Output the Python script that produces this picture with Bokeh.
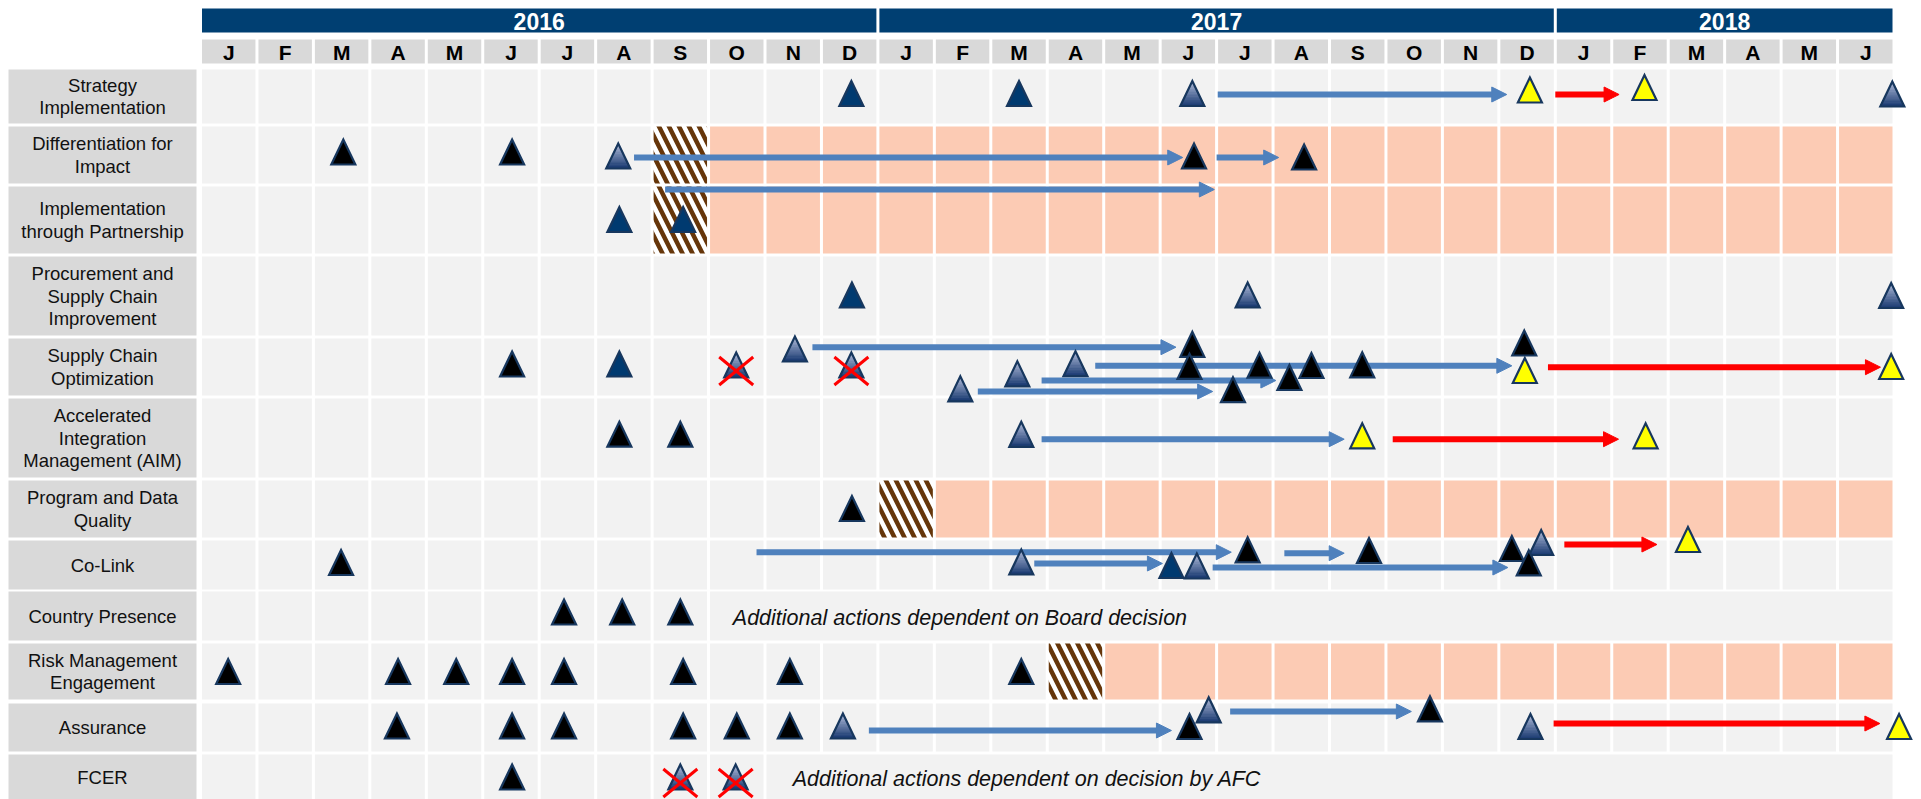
from bokeh.plotting import figure
from bokeh.models import Range1d, ColumnDataSource
from bokeh.embed import file_html
from bokeh.resources import INLINE
from bokeh.core.properties import value

# ---------------- data ----------------
YEARS = ["2016", "2017", "2018"]
YEAR_FIRST_MONTH = [0, 12, 24]
YEAR_END_MONTH = [12, 24, 30]
MONTHS = ["J", "F", "M", "A", "M", "J", "J", "A", "S", "O", "N", "D"] * 2 + ["J", "F", "M", "A", "M", "J"]

ROWS = [
    "Strategy\nImplementation",
    "Differentiation for\nImpact",
    "Implementation\nthrough Partnership",
    "Procurement and\nSupply Chain\nImprovement",
    "Supply Chain\nOptimization",
    "Accelerated\nIntegration\nManagement (AIM)",
    "Program and Data\nQuality",
    "Co-Link",
    "Country Presence",
    "Risk Management\nEngagement",
    "Assurance",
    "FCER",
]

# transition month (hatched), shaded through the end afterwards
HATCH_ROW = [1, 2, 6, 9]
HATCH_MONTH = [8, 8, 12, 15]

# rows whose cells merge into one from a month on
MERGE_ROW = [8, 11]
MERGE_MONTH = [9, 10]

NOTE_ROW = [8, 11]
NOTE_MONTH = [9.43, 10.49]
NOTE_TEXT = ["Additional actions dependent on Board decision",
             "Additional actions dependent on decision by AFC"]

# milestones: row, month position, kind
MS_ROW = [0, 0, 0, 0, 0, 0,
          1, 1, 1, 1, 1,
          2, 2,
          3, 3, 3,
          4, 4, 4, 4, 4, 4, 4, 4, 4, 4, 4, 4, 4, 4, 4, 4, 4, 4,
          5, 5, 5, 5, 5,
          6,
          7, 7, 7, 7, 7, 7, 7, 7, 7, 7,
          8, 8, 8,
          9, 9, 9, 9, 9, 9, 9, 9,
          10, 10, 10, 10, 10, 10, 10, 10, 10, 10, 10, 10,
          11, 11, 11]
MS_MONTH = [11.53, 14.5, 17.57, 23.55, 25.58, 29.97,
            2.53, 5.52, 7.4, 17.6, 19.55,
            7.42, 8.55,
            11.54, 18.55, 29.95,
            5.52, 7.42, 9.49, 10.53, 11.53, 13.46, 14.47, 15.5, 17.57, 17.52, 18.29, 18.76, 19.29, 19.68, 20.58, 23.45, 23.46, 29.95,
            7.42, 8.5, 14.54, 20.58, 25.6,
            11.54,
            2.49, 14.54, 17.2, 17.65, 18.55, 20.7, 23.23, 23.75, 23.53, 26.35,
            6.44, 7.47, 8.5,
            0.49, 3.5, 4.53, 5.52, 6.44, 8.55, 10.44, 14.54,
            3.48, 5.52, 6.44, 8.55, 9.5, 10.44, 11.38, 17.52, 17.86, 21.78, 23.56, 30.09,
            5.52, 8.5, 9.48]
MS_KIND = ["key", "key", "planned", "revised", "revised", "planned",
           "done", "done", "planned", "done", "done",
           "key", "key",
           "key", "planned", "planned",
           "done", "key", "cancelled", "planned", "cancelled", "planned", "planned", "planned", "done", "done", "done", "done", "done", "done", "done", "done", "revised", "revised",
           "done", "done", "planned", "revised", "revised",
           "done",
           "done", "planned", "key", "planned", "done", "done", "done", "planned", "done", "revised",
           "done", "done", "done",
           "done", "done", "done", "done", "done", "done", "done", "done",
           "done", "done", "done", "done", "done", "done", "planned", "done", "planned", "done", "planned", "revised",
           "done", "cancelled", "cancelled"]

# shifts: row, from month, to month, kind
AR_ROW = [0, 0, 1, 1, 2, 4, 4, 4, 4, 4, 5, 5, 7, 7, 7, 7, 7, 10, 10, 10]
AR_FROM = [18.02, 24.0, 7.68, 18.0, 8.23, 10.84, 13.77, 14.9, 15.85, 23.87, 14.9, 21.12,
           9.85, 19.2, 24.16, 14.77, 17.93, 11.84, 18.24, 23.97]
AR_TO = [23.14, 25.13, 17.4, 19.1, 17.96, 17.28, 17.93, 19.05, 23.23, 29.76, 20.26, 25.12,
         18.26, 20.26, 25.8, 17.04, 23.16, 17.2, 21.45, 29.75]
AR_KIND = ["shift", "delay", "shift", "shift", "shift", "shift", "shift", "shift", "shift", "delay",
           "shift", "delay", "shift", "shift", "delay", "shift", "shift", "shift", "shift", "delay"]

# ---------------- layout (pixels) ----------------
PAGE = 0
FIG_W, FIG_H = 1915, 799
X0, MW = 200.0, 56.45
ROW_TOP = [69, 126, 186, 256, 338, 398, 480, 540, 591, 643, 703, 754]
ROW_BOT = [123, 183, 253, 335, 395, 477, 537, 589, 640, 699, 751, 800]
MS_DY = [-3, -3, -3, -6.5, -9, -2.5,
         -3, -3, 1, 1, 2,
         -0.5, -0.5,
         -1, -1, -0.5,
         -3, -3, -2, -18, -2, 21.8, 6.8, -3.3, -22.7, -0.7, 22.7, -1.8, 10.5, -1.5, -2.2, -24, 3.5, -0.5,
         -3.8, -3.8, -3.7, -2.2, -2.2,
         -0.5,
         -2.5, -3, 0.5, 1, -15.2, -14.5, -16.5, -22.5, -2.2, -25.5,
         -4, -4, -4,
         0, 0, 0, 0, 0, 0, 0, 0,
         -1.5, -1.5, -1.5, -1.5, -1.5, -1.5, -1.5, -1, -17.6, -18.6, -1, -1,
         -0.5, -0.5, -0.5]
AR_DY = [-2, -2, 2.5, 2.5, -30.5, -19.8, 24.5, 13.5, -1.2, 0.2, 1.2, 1.2,
         -12.8, -11.8, -20.5, -1.5, 2.5, 3, -16, -4]

# ---------------- styles ----------------
BAR = "#003F72"
CELL = "#F2F2F2"
LABEL_BG = "#D9D9D9"
PEACH = "#FCCBB4"
HATCH_C = "#66360A"
ARROW_C = {"shift": "#4F81BD", "delay": "#FF0000"}
OUTLINE = "#17375E"
FILL = {"key": "#003A70", "done": "#000000", "revised": "#FFFF00"}
GRAD_TOP = (184, 194, 222)
GRAD_BOT = (24, 56, 112)
FONT = value("Liberation Sans")


def mx(px):
    return (px - X0) / MW


G = 1.5 / MW
p = figure(width=FIG_W, height=FIG_H, output_backend="svg", toolbar_location=None,
           x_range=Range1d(mx(PAGE), mx(PAGE + FIG_W)), y_range=Range1d(PAGE + FIG_H, PAGE),
           min_border=0, x_axis_type=None, y_axis_type=None, outline_line_color=None,
           background_fill_color="white", border_fill_color="white")
p.grid.visible = False

# year bars
p.quad(left=[s + G for s in YEAR_FIRST_MONTH], right=[e - G for e in YEAR_END_MONTH],
       top=8, bottom=32, fill_color=BAR, line_color=None)
p.text(x=[(s + e) / 2 for s, e in zip(YEAR_FIRST_MONTH, YEAR_END_MONTH)], y=21, text=YEARS,
       text_font=FONT, text_font_style="bold", text_font_size="23px", text_color="white",
       text_align="center", text_baseline="middle")

# month headers
p.quad(left=[m + G for m in range(len(MONTHS))], right=[m + 1 - G for m in range(len(MONTHS))],
       top=39, bottom=63, fill_color=LABEL_BG, line_color=None)
p.text(x=[m + 0.5 for m in range(len(MONTHS))], y=52, text=MONTHS,
       text_font=FONT, text_font_style="bold", text_font_size="21px", text_color="black",
       text_align="center", text_baseline="middle")

# row label boxes
p.quad(left=mx(8), right=mx(196), top=ROW_TOP, bottom=ROW_BOT, fill_color=LABEL_BG, line_color=None)
lx, ly, lt = [], [], []
for r, lab in enumerate(ROWS):
    lines = lab.split("\n")
    yc = (ROW_TOP[r] + ROW_BOT[r]) / 2
    for i, ln in enumerate(lines):
        lx.append(mx(102))
        ly.append(yc + (i - (len(lines) - 1) / 2) * 22.8)
        lt.append(ln)
p.text(x=lx, y=ly, text=lt, text_font=FONT, text_font_size="18.5px", text_color="#111111",
       text_align="center", text_baseline="middle")

# grid cells
cl, cr, ctp, cbt, cc = [], [], [], [], []
hl, hr, ht, hb = [], [], [], []
for r in range(len(ROWS)):
    merge = MERGE_MONTH[MERGE_ROW.index(r)] if r in MERGE_ROW else None
    hatch = HATCH_MONTH[HATCH_ROW.index(r)] if r in HATCH_ROW else None
    for m in range(len(MONTHS)):
        if merge is not None and m >= merge:
            if m == merge:
                cl.append(m + G); cr.append(len(MONTHS) - G)
                ctp.append(ROW_TOP[r]); cbt.append(ROW_BOT[r]); cc.append(CELL)
            continue
        if hatch is not None and m == hatch:
            hl.append(m + G); hr.append(m + 1 - G); ht.append(ROW_TOP[r]); hb.append(ROW_BOT[r])
            continue
        cl.append(m + G); cr.append(m + 1 - G); ctp.append(ROW_TOP[r]); cbt.append(ROW_BOT[r])
        cc.append(PEACH if (hatch is not None and m > hatch) else CELL)
p.quad(left=cl, right=cr, top=ctp, bottom=cbt, fill_color=cc, line_color=None)
p.quad(left=hl, right=hr, top=ht, bottom=hb, fill_color="white", line_color=None,
       hatch_pattern="\\", hatch_color=HATCH_C, hatch_weight=4.5, hatch_scale=20)

# notes
p.text(x=NOTE_MONTH, y=[(ROW_TOP[r] + ROW_BOT[r]) / 2 + 1.5 for r in NOTE_ROW], text=NOTE_TEXT,
       text_font=FONT, text_font_style="italic", text_font_size="21.5px", text_color="#111111",
       text_align="left", text_baseline="middle")

# arrows (shafts + heads)
HL = 15.0
for kind in ["shift", "delay"]:
    idx = [i for i, k in enumerate(AR_KIND) if k == kind]
    ys = [(ROW_TOP[AR_ROW[i]] + ROW_BOT[AR_ROW[i]]) / 2 + AR_DY[i] for i in idx]
    p.segment(x0=[AR_FROM[i] for i in idx], x1=[AR_TO[i] - HL / MW + 0.02 for i in idx],
              y0=ys, y1=ys, line_color=ARROW_C[kind], line_width=6, line_cap="butt")
    hx = [[AR_TO[i] - HL / MW, AR_TO[i] - HL / MW, AR_TO[i]] for i in idx]
    hy = [[y - 7.5, y + 7.5, y] for y in ys]
    p.patches(xs=hx, ys=hy, fill_color=ARROW_C[kind], line_color=ARROW_C[kind], line_width=1)

# milestone triangles (one renderer, keeps drawing order)
TW, TH, NB = 12.0 / MW, 25.0, 9
px_, py_, pf, pl, pw, pfa = [], [], [], [], [], []
xm0, xm1, ym0, ym1 = [], [], [], []
for i in range(len(MS_ROW)):
    m = MS_MONTH[i]
    yc = (ROW_TOP[MS_ROW[i]] + ROW_BOT[MS_ROW[i]]) / 2 + MS_DY[i]
    ytop, ybot = yc - TH / 2, yc + TH / 2
    kind = MS_KIND[i]
    if kind in ("planned", "cancelled"):
        for b in range(NB):
            t0, t1 = b / NB, (b + 1) / NB
            tc = (b + 0.5) / NB
            col = "#%02X%02X%02X" % tuple(int(GRAD_TOP[k] + (GRAD_BOT[k] - GRAD_TOP[k]) * tc) for k in range(3))
            px_.append([m - TW * t0, m + TW * t0, m + TW * t1, m - TW * t1])
            py_.append([ytop + TH * t0, ytop + TH * t0, ytop + TH * t1, ytop + TH * t1])
            pf.append(col); pl.append(col); pw.append(0.8); pfa.append(1.0)
        px_.append([m - TW, m + TW, m]); py_.append([ybot, ybot, ytop])
        pf.append("white"); pl.append(OUTLINE); pw.append(2.2); pfa.append(0.0)
        if kind == "cancelled":
            xm0 += [m - 17 / MW, m - 17 / MW]; xm1 += [m + 17 / MW, m + 17 / MW]
            ym0 += [yc + 6 + 14, yc + 6 - 14]; ym1 += [yc + 6 - 14, yc + 6 + 14]
    else:
        px_.append([m - TW, m + TW, m]); py_.append([ybot, ybot, ytop])
        pf.append(FILL[kind]); pl.append(OUTLINE); pw.append(2.2); pfa.append(1.0)
src = ColumnDataSource(dict(xs=px_, ys=py_, fc=pf, lc=pl, lw=pw, fa=pfa))
p.patches(xs="xs", ys="ys", source=src, fill_color="fc", line_color="lc", line_width="lw",
          fill_alpha="fa", line_join="miter")
p.segment(x0=xm0, y0=ym0, x1=xm1, y1=ym1, line_color="#FF0000", line_width=3)

open("out.html", "w").write(file_html(p, INLINE))
